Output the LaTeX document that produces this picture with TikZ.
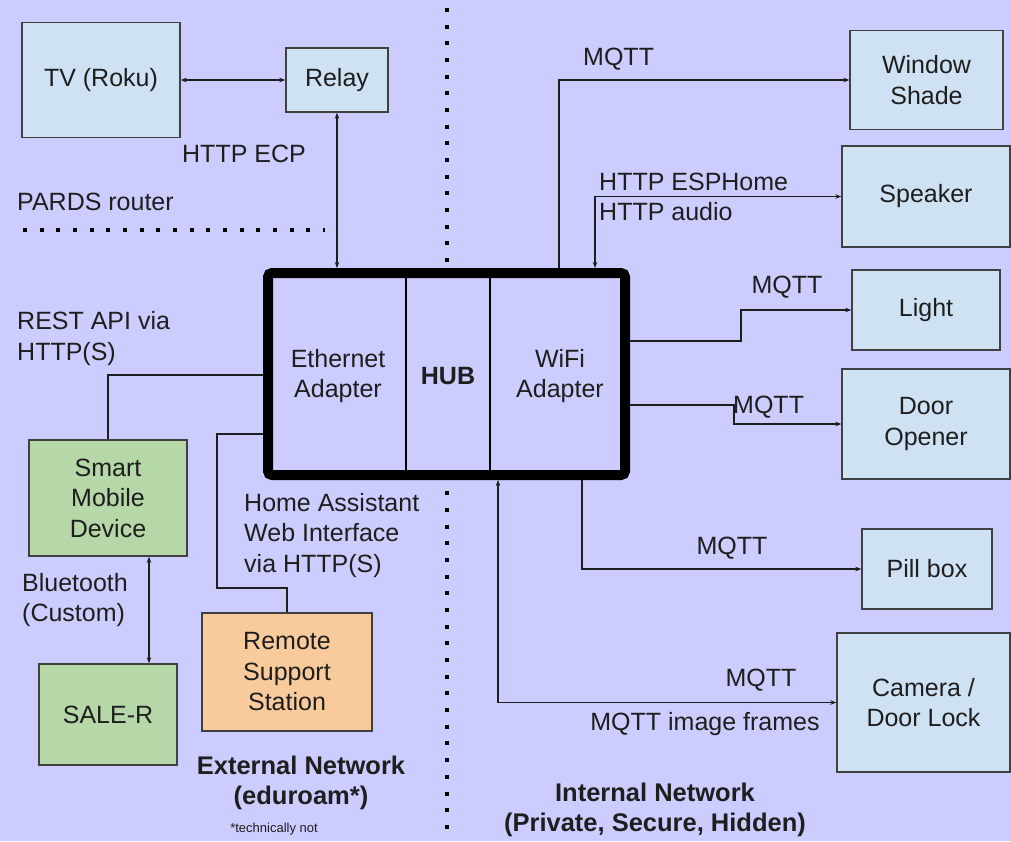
\documentclass[tikz,border=0pt]{standalone}
\usepackage{fontspec}
\setmainfont{Liberation Sans}
\usetikzlibrary{arrows.meta}
\definecolor{bgcol}{HTML}{CCCCFF}
\definecolor{devblue}{HTML}{CFE2F3}
\definecolor{devgreen}{HTML}{B6D7A8}
\definecolor{devorange}{HTML}{F9CB9C}
\definecolor{ink}{HTML}{1E1E1E}
\begin{document}
\begin{tikzpicture}[x=1pt,y=-1pt,
  every node/.style={font=\fontsize{25}{30.5}\selectfont, text=ink, align=center},
  device/.style={draw=ink!85, line width=1.4pt, inner sep=0pt},
  bluedev/.style={device, fill=devblue},
  greendev/.style={device, fill=devgreen},
  orangedev/.style={device, fill=devorange},
  link/.style={draw=ink, line width=1.2pt},
  >={Stealth[length=6pt,width=4.5pt]},
  lbl/.style={inner sep=0pt},
  netdots/.style={draw=black, line width=4pt, dash pattern=on 4pt off 12.67pt},
  boldlbl/.style={lbl, font=\bfseries\fontsize{25.5}{30}\selectfont}
]
% canvas
\fill[bgcol] (0,0) rectangle (1011,841);
\useasboundingbox (0,0) rectangle (1011,841);

% network boundaries
\draw[netdots] (447,8) -- (447,841);
\draw[netdots] (23,230) -- (325,230);

% hub
\node[draw=black, line width=10pt, fill=bgcol, rounded corners=4pt,
      minimum width=357pt, minimum height=202pt, inner sep=0pt] (hub) at (446.5,374) {};
\draw[line width=1.3pt, black] (406,273) -- (406,475);
\draw[line width=1.3pt, black] (490,273) -- (490,475);
\node[lbl] (eth) at (338,376) {Ethernet\\Adapter};
\node[lbl, font=\bfseries\fontsize{25}{30.5}\selectfont] (hubname) at (448,376) {HUB};
\node[lbl] (wifi) at (560,376) {WiFi\\Adapter};

% external devices
\node[bluedev, minimum width=158pt, minimum height=115pt] (tv) at (101,80) {TV (Roku)};
\node[bluedev, minimum width=102pt, minimum height=64pt] (relay) at (337,80) {Relay};
\node[greendev, minimum width=158pt, minimum height=116pt] (smart) at (108,498) {Smart\\Mobile\\Device};
\node[greendev, minimum width=138pt, minimum height=101pt] (saler) at (108,714.5) {SALE-R};
\node[orangedev, minimum width=170pt, minimum height=118pt] (remote) at (287,672) {Remote\\Support\\Station};

% internal devices
\node[bluedev, minimum width=153pt, minimum height=99pt] (shade) at (926.5,80) {Window\\Shade};
\node[bluedev, minimum width=168pt, minimum height=101pt] (speaker) at (926,196.5) {Speaker};
\node[bluedev, minimum width=148pt, minimum height=80pt] (light) at (926,310) {Light};
\node[bluedev, minimum width=168pt, minimum height=110pt] (door) at (926,424) {Door\\Opener};
\node[bluedev, minimum width=130pt, minimum height=80pt] (pill) at (927,569) {Pill box};
\node[bluedev, minimum width=173pt, minimum height=139pt] (camera) at (923.5,702.5) {Camera /\\Door Lock};

% routing points
\coordinate (wsx) at (559,0);
\coordinate (spx) at (595,0);
\coordinate (lbend) at (741,341);
\coordinate (dbend) at (734,405);
\coordinate (px) at (582,0);
\coordinate (cx) at (498,0);
\coordinate (sbend) at (108,375);
\coordinate (r1) at (217,434);
\coordinate (r2) at (217,588);
\coordinate (btx) at (149,0);

% connectors
\draw[link,<->] (tv.east) -- (relay.west);
\draw[link,<->] (relay.south) -- (relay.south |- hub.north);
\draw[link,->] (hub.north -| wsx) |- (shade.west);
\draw[link,<->] (hub.north -| spx) |- (speaker.west);
\draw[link,->] (hub.east |- lbend) -- (lbend) |- (light.west);
\draw[link,->] (hub.east |- dbend) -- (dbend) |- (door.west);
\draw[link,->] (hub.south -| px) |- (pill.west);
\draw[link,<->] (hub.south -| cx) |- (camera.west);
\draw[link] (hub.west |- sbend) -| (smart.north);
\draw[link] (hub.west |- r1) -- (r1) -- (r2) -| (remote.north);
\draw[link,<->] (smart.south -| btx) -- (saler.north -| btx);

% protocol labels
\node[lbl] (ecp) at (244,154) {HTTP ECP};
\node[lbl, anchor=west] (pards) at (17,202) {PARDS router};
\node[lbl, anchor=west] (mq1) at (583,59) {MQTT};
\node[lbl, anchor=west] (esph) at (599,182) {HTTP ESPHome};
\node[lbl, anchor=west] (audio) at (599,212) {HTTP audio};
\node[lbl] (mq2) at (787,287) {MQTT};
\node[lbl, anchor=west] (mq3) at (733,407) {MQTT};
\node[lbl] (mq4) at (732,548) {MQTT};
\node[lbl] (mq5) at (761,680) {MQTT};
\node[lbl] (frames) at (705,724) {MQTT image frames};
\node[lbl, anchor=west, align=left] (rest) at (17,338.5) {REST API via\\HTTP(S)};
\node[lbl, anchor=west, align=left] (haweb) at (244,535.5) {Home Assistant\\Web Interface\\via HTTP(S)};
\node[lbl, anchor=west, align=left] (bt) at (22,600) {Bluetooth\\(Custom)};

% network names
\node[boldlbl] (extnet) at (301,783) {External Network\\(eduroam*)};
\node[lbl, font=\fontsize{13}{15}\selectfont] (note) at (274,829) {*technically not};
\node[boldlbl] (intnet) at (655,810) {Internal Network\\(Private, Secure, Hidden)};
\end{tikzpicture}
\end{document}
